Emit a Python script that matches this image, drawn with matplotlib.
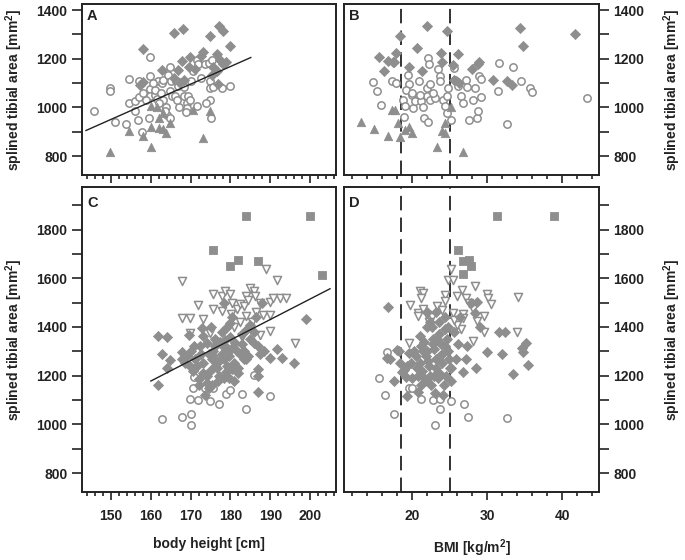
import matplotlib
matplotlib.use("Agg")
import matplotlib.pyplot as plt
from matplotlib.ticker import MultipleLocator

plt.rcParams['font.family'] = ['Liberation Sans', 'DejaVu Sans']
plt.rcParams['font.weight'] = 'bold'
plt.rcParams['mathtext.fontset'] = 'custom'
plt.rcParams['mathtext.rm'] = 'Liberation Sans:bold'
plt.rcParams['mathtext.bf'] = 'Liberation Sans:bold'
plt.rcParams['mathtext.default'] = 'bf'

# ---------------- Panel A: body height vs area (upper group) ----------------
A_dia_x = [157.9,165.9,168.0,174.9,177.1,178.1,179.9,162.7,158.0,157.3,167.8,169.8,173.0,166.8,169.6,171.1,165.8,168.2,167.3,176.5,177.4,178.1,175.7,176.5,175.3,176.9,172.5,178.8]
A_dia_y = [1240,1305,1322,1295,1336,1314,1253,1152,1104,1093,1191,1209,1227,1152,1168,1159,1120,1114,1100,1219,1195,1178,1168,1150,1134,1096,1210,1188]
A_circ_x = [145.8,149.7,149.7,151.0,153.8,154.6,156.9,154.6,156.0,156.9,155.9,156.7,157.7,159.8,159.8,159.8,159.8,158.8,159.6,161.1,161.6,161.9,162.7,163.1,163.8,163.0,164.0,164.7,164.8,164.4,165.1,164.8,165.2,166.1,166.3,166.9,168.2,168.3,169.0,169.0,168.8,169.4,169.8,170.0,171.5,171.9,171.5,173.6,174.5,174.9,174.9,175.0,173.9,174.9,175.3,175.7,177.8,179.9,161.0,162.0,163.5,167.0,166.5,160.5,170.5,172.5,162.5,158.0]
A_circ_y = [987,1080,1066,940,932,1116,1107,1018,1025,1041,987,950,900,1206,1127,1075,1045,1032,957,1052,1035,1107,1102,1114,1002,1032,970,957,1168,1134,1107,1066,1045,1045,1107,1089,1084,1045,1018,998,980,1045,1032,1107,1195,1178,1007,1178,1184,1107,1032,957,1018,1080,1195,1082,1080,1089,1070,1020,985,1000,1030,1100,1150,1120,1060,1060]
A_tri_x = [149.7,154.6,157.9,160.0,160.0,160.0,162.1,162.1,163.1,163.7,164.8,170.7,173.0,174.9,161.5,163.0]
A_tri_y = [816,902,882,837,918,1005,916,957,912,895,934,991,875,984,1000,975]
A_fit_x = [143.7, 185.1]
A_fit_y = [905, 1205]

# ---------------- Panel B: BMI vs area (upper group) ----------------
B_dia_x = [15.5,16.2,16.7,17.4,17.8,17.5,18.4,20.6,19.6,21.3,22.0,23.8,23.9,24.6,25.4,26.1,25.5,26.2,27.9,28.7,28.9,30.8,32.6,33.3,34.3,34.7,41.7]
B_dia_y = [1206,1150,1191,1188,1225,1186,1295,1243,1164,1150,1336,1223,1188,1314,1175,1219,1114,1100,1157,1178,1186,1114,1107,1093,1325,1253,1302]
B_circ_x = [14.8,15.3,15.8,17.3,17.8,18.8,19.0,19.4,19.5,19.2,19.9,20.1,20.4,20.9,21.2,21.4,21.5,21.9,22.1,22.2,22.0,22.3,22.3,22.1,23.0,23.4,23.7,23.7,24.1,24.3,24.6,24.8,24.6,25.2,25.5,25.7,26.1,26.5,26.8,27.1,27.3,27.5,28.1,28.3,28.6,28.8,28.9,29.1,29.2,31.5,31.4,32.6,33.4,34.5,35.7,35.9,43.3,20.0,21.0,22.8,18.9]
B_circ_y = [1103,1066,1011,1107,1100,1032,1005,1134,1096,1070,1052,998,1025,1107,1025,1002,957,1080,1202,1178,1045,1032,1096,940,1039,1157,1127,1107,1032,1005,975,1080,1045,948,1161,1114,1089,1045,1018,1114,1084,948,1032,1080,957,984,1130,1116,1043,1184,1066,930,1168,1107,1080,1062,1039,1060,1050,1060,960]
B_tri_x = [13.2,14.9,16.7,17.3,17.7,18.1,18.3,19.0,19.6,19.9,23.3,23.9,24.3,24.4,25.1,26.7]
B_tri_y = [939,912,882,991,991,934,877,906,918,895,837,902,895,934,1002,818]

# ---------------- Panel C: body height vs area (lower group) ----------------
C_dia_x = [161.9,161.9,164.0,162.9,164.0,164.8,167.8,167.8,169.1,169.5,169.8,170.6,171.5,172.4,172.8,173.2,174.0,174.5,175.3,175.7,172.0,173.2,174.0,174.5,175.3,173.6,177.8,178.3,178.6,179.1,179.1,178.3,179.5,179.9,180.4,180.8,181.2,181.6,182.4,183.3,184.1,185.0,185.0,185.8,187.0,187.5,187.9,187.0,187.0,187.0,190.0,191.8,192.9,196.0,199.0,177.2,177.8,176.5,177.0,178.0,180.0,181.0,182.0,183.0,183.5,184.5,176.0,171.0,170.0,168.5,172.0,173.0,174.8,176.8,179.0,180.5,186.0,186.5,188.5,175.0,176.0,178.8,179.6,184.0,182.8,174.2,176.2,178.4,180.2,181.8,172.6,170.8,175.6,177.4,179.4]
C_dia_y = [1161,1362,1358,1290,1230,1263,1297,1269,1280,1366,1239,1219,1239,1321,1396,1362,1335,1287,1267,1301,1185,1212,1171,1150,1160,1120,1378,1499,1346,1315,1239,1191,1280,1417,1226,1178,1335,1301,1287,1267,1390,1410,1349,1335,1321,1287,1499,1226,1198,1133,1274,1308,1274,1253,1431,1260,1290,1230,1200,1320,1360,1250,1210,1330,1300,1280,1350,1270,1300,1250,1160,1250,1220,1180,1400,1440,1380,1440,1300,1400,1320,1215,1190,1270,1370,1200,1240,1270,1310,1230,1290,1320,1280,1340,1300]
C_circ_x = [162.9,167.9,170.0,170.0,169.8,171.9,174.9,177.0,170.6,173.6,175.7,178.9,179.9,182.8,183.9,185.8,189.8,170.9]
C_circ_y = [1023,1031,1041,997,1103,1098,1096,1085,1150,1150,1150,1126,1143,1123,1064,1201,1116,1196]
C_sq_x = [183.9,200.0,175.7,179.9,181.8,187.0,202.9]
C_sq_y = [1857,1857,1718,1650,1674,1670,1615]
C_vtri_x = [167.8,188.9,191.8,171.8,167.8,169.9,173.0,175.5,175.7,177.8,178.6,179.9,177.8,180.2,181.6,182.4,183.4,183.9,184.8,185.8,186.2,187.3,188.1,190.0,189.8,190.8,192.5,194.0,190.0,187.5,196.1,169.9,174.9,176.1,181.0,182.5,184.0,185.5,183.0,180.5,186.5,184.5]
C_vtri_y = [1588,1640,1591,1492,1438,1435,1433,1472,1537,1527,1547,1537,1465,1455,1472,1495,1485,1527,1561,1547,1529,1499,1451,1451,1503,1520,1520,1520,1383,1369,1335,1376,1376,1338,1400,1420,1445,1420,1360,1500,1460,1510]
C_fit_x = [160.0, 205.0]
C_fit_y = [1178, 1557]

# ---------------- Panel D: BMI vs area (lower group) ----------------
D_dia_x = [16.7,16.6,17.0,17.5,17.9,18.2,18.4,18.6,18.9,19.2,19.3,19.5,20.8,21.0,21.2,21.0,21.3,21.5,21.8,22.0,22.2,22.4,22.5,22.6,22.8,22.9,23.1,23.2,23.4,23.5,23.6,23.8,23.9,24.0,24.2,24.3,24.4,24.6,24.7,24.9,25.0,25.2,21.6,22.3,20.5,20.2,19.8,23.0,24.1,25.2,26.8,27.2,27.3,28.5,28.6,28.4,29.0,30.0,31.5,32.3,32.0,33.4,34.6,35.2,34.7,35.4,25.8,26.1,25.5,26.4,27.8,21.9,23.2,22.0,20.8,21.9,23.6,24.5,20.0,19.3,21.4,22.1,22.7,23.3,24.8,20.6,21.1,22.9,23.7,24.3]
D_dia_y = [1483,1271,1267,1178,1305,1300,1250,1215,1222,1195,1117,1293,1133,1362,1320,1250,1220,1190,1280,1300,1240,1200,1160,1400,1350,1310,1270,1230,1190,1420,1370,1330,1290,1250,1160,1440,1390,1350,1300,1270,1230,1180,1340,1420,1280,1300,1250,1130,1120,1230,1216,1267,1321,1230,1503,1458,1399,1297,1379,1379,1287,1205,1312,1335,1298,1242,1270,1330,1380,1440,1500,1460,1460,1400,1200,1180,1210,1200,1190,1240,1300,1260,1330,1350,1400,1230,1160,1200,1280,1320]
D_circ_x = [16.6,15.5,16.3,17.5,19.5,20.0,21.2,22.7,23.7,23.7,23.0,25.2,26.9,27.4,32.6]
D_circ_y = [1298,1191,1120,1041,1150,1148,1103,1098,1103,1064,997,1096,1085,1031,1025]
D_sq_x = [31.25,38.9,26.1,26.8,27.5,27.8,26.7]
D_sq_y = [1857,1857,1718,1670,1674,1650,1618]
D_vtri_x = [25.1,24.8,25.4,28.4,21.0,21.4,21.2,26.6,19.7,20.8,21.4,20.8,23.3,24.3,24.3,26.0,27.2,29.9,30.1,30.5,34.1,25.4,26.7,28.1,29.6,28.6,26.7,29.6,33.9,19.5,28.1,26.5,25.9,25.6,22.0,22.6,22.2,24.0,27.5]
D_vtri_y = [1640,1591,1591,1567,1547,1540,1520,1551,1492,1458,1472,1445,1485,1533,1506,1527,1520,1536,1520,1495,1522,1458,1455,1474,1444,1424,1437,1380,1380,1335,1342,1390,1410,1430,1450,1440,1420,1470,1500]

BMI_cut = [18.5, 25.0]

# ---------------- drawing ----------------
GRAY = '#8e8e8e'
DARK = '#222222'
fig = plt.figure(figsize=(6.85, 5.6), dpi=100)
W, H = 685, 560

def axrect(l, r, t, b):
    return [l / W, 1 - b / H, (r - l) / W, (b - t) / H]

axA = fig.add_axes(axrect(82, 336, 4, 175))
axB = fig.add_axes(axrect(344, 599, 4, 175))
axC = fig.add_axes(axrect(82, 336, 187, 492))
axD = fig.add_axes(axrect(344, 599, 187, 492))

def sc_filled(ax, x, y, m, s):
    ax.scatter(x, y, marker=m, s=s, facecolor=GRAY, edgecolor=GRAY, linewidths=0.6, zorder=3)

def sc_hollow(ax, x, y, m, s):
    ax.scatter(x, y, marker=m, s=s, facecolor='white', edgecolor=GRAY, linewidths=1.1, zorder=3)

sc_hollow(axA, A_circ_x, A_circ_y, 'o', 28)
sc_filled(axA, A_tri_x, A_tri_y, '^', 36)
sc_filled(axA, A_dia_x, A_dia_y, 'D', 26)
axA.plot(A_fit_x, A_fit_y, color=DARK, lw=1.0, zorder=4)

sc_hollow(axB, B_circ_x, B_circ_y, 'o', 28)
sc_filled(axB, B_tri_x, B_tri_y, '^', 36)
sc_filled(axB, B_dia_x, B_dia_y, 'D', 26)

sc_hollow(axC, C_circ_x, C_circ_y, 'o', 28)
sc_hollow(axC, C_vtri_x, C_vtri_y, 'v', 34)
sc_filled(axC, C_dia_x, C_dia_y, 'D', 26)
sc_filled(axC, C_sq_x, C_sq_y, 's', 28)
axC.plot(C_fit_x, C_fit_y, color=DARK, lw=1.0, zorder=4)

sc_hollow(axD, D_circ_x, D_circ_y, 'o', 28)
sc_hollow(axD, D_vtri_x, D_vtri_y, 'v', 34)
sc_filled(axD, D_dia_x, D_dia_y, 'D', 26)
sc_filled(axD, D_sq_x, D_sq_y, 's', 28)

for ax in (axB, axD):
    for c in BMI_cut:
        ax.axvline(c, color=DARK, lw=1.3, dashes=(8, 4), zorder=2)

ylab = r'splined tibial area [mm$^2$]'
for ax, letter in ((axA, 'A'), (axB, 'B'), (axC, 'C'), (axD, 'D')):
    for sp in ax.spines.values():
        sp.set_linewidth(1.4)
        sp.set_color(DARK)
    ax.text(0.02, 0.97, letter, transform=ax.transAxes, ha='left', va='top',
            fontsize=10.5, fontweight='bold', color=DARK)
    ax.tick_params(axis='both', which='both', direction='out', width=1.2,
                   colors=DARK, labelsize=10)
    ax.tick_params(axis='y', which='both', length=7)
    ax.tick_params(axis='x', which='major', length=6, pad=6.5)
    ax.tick_params(axis='x', which='minor', length=3)
    ax.xaxis.set_minor_locator(MultipleLocator(2))
    ax.yaxis.set_minor_locator(MultipleLocator(100))

for ax in (axA, axC):
    ax.set_xlim(142.7, 206.5)
    ax.xaxis.set_major_locator(MultipleLocator(10))
    ax.set_ylabel(ylab, fontsize=10, fontweight='bold', color=DARK, labelpad=8)
for ax in (axB, axD):
    ax.set_xlim(10.9, 44.9)
    ax.xaxis.set_major_locator(MultipleLocator(10))
    ax.yaxis.tick_right()
    ax.yaxis.set_label_position('right')
    ax.set_ylabel(ylab, fontsize=10, fontweight='bold', color=DARK, rotation=90, labelpad=12)

for ax in (axA, axB):
    ax.set_ylim(722, 1425)
    ax.yaxis.set_major_locator(MultipleLocator(200))
    ax.tick_params(axis='x', labelbottom=False)
for ax in (axC, axD):
    ax.set_ylim(722, 1975)
    ax.yaxis.set_major_locator(MultipleLocator(200))

axC.set_xlabel('body height [cm]', fontsize=10, fontweight='bold', color=DARK, labelpad=10)
axD.set_xlabel(r'BMI [kg/m$^2$]', fontsize=10, fontweight='bold', color=DARK, labelpad=10)

fig.savefig('out.png', dpi=100, facecolor='white')
